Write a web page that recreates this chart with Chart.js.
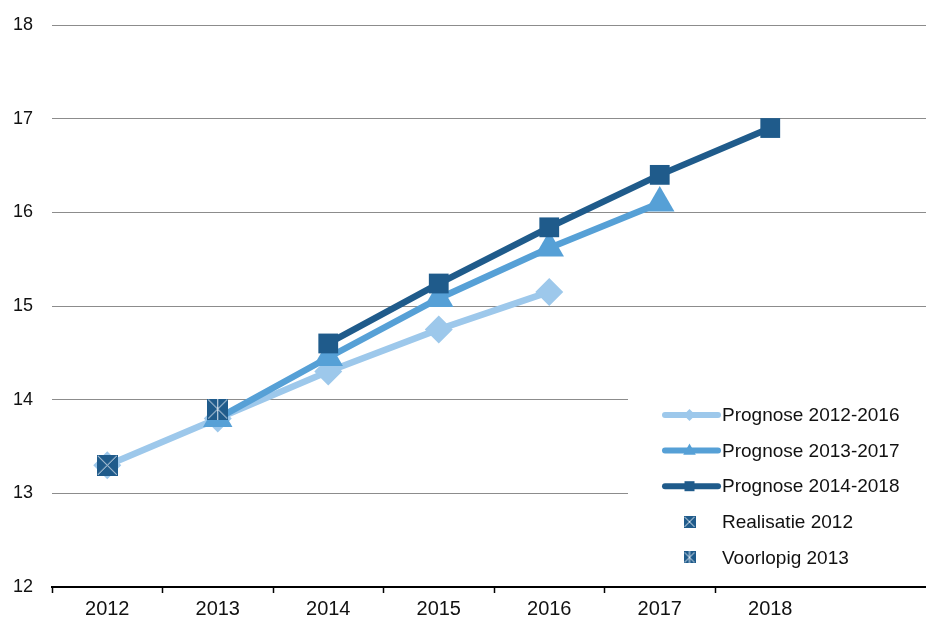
<!DOCTYPE html>
<html>
<head>
<meta charset="utf-8">
<script src="https://cdn.jsdelivr.net/npm/chart.js@4/dist/chart.umd.min.js"></script>
<style>
  html, body { margin: 0; padding: 0; background: #fff; overflow: hidden; }
  #wrap { width: 926px; height: 621px; }
</style>
</head>
<body>
<div id="wrap"><canvas id="chart"></canvas></div>
<script>
// data
const years = ['2012', '2013', '2014', '2015', '2016', '2017', '2018', ''];
const prognose2012 = [13.3, 13.8, 14.3, 14.75, 15.15, null, null, null];
const prognose2013 = [null, 13.8, 14.45, 15.08, 15.62, 16.1, null, null];
const prognose2014 = [null, null, 14.6, 15.24, 15.84, 16.4, 16.9, null];
const realisatie = [13.3, null, null, null, null, null, null, null];
const voorlopig = [null, 13.9, null, null, null, null, null, null];
const yTicks = [12, 13, 14, 15, 16, 17, 18];

const LIGHT = '#9DC8EB';
const MID = '#56A0D6';
const DARK = '#1F5B8B';
const FONT = '"Liberation Sans", Arial, sans-serif';

// square marker with a white cross (and optional vertical bar)
function makeMarker(size, vertical) {
    const c = document.createElement('canvas');
    c.width = size; c.height = size;
    const g = c.getContext('2d');
    g.fillStyle = DARK;
    g.fillRect(0, 0, size, size);
    g.strokeStyle = '#dfe9f2';
    g.lineWidth = 1;
    g.beginPath();
    g.moveTo(1, 1); g.lineTo(size - 1, size - 1);
    g.moveTo(size - 1, 1); g.lineTo(1, size - 1);
    if (vertical) {
        g.moveTo(size / 2, 0); g.lineTo(size / 2, size);
    }
    g.stroke();
    return c;
}

const bigReal = makeMarker(21, false);
const bigVoor = makeMarker(21, true);
const smallReal = makeMarker(12, false);
const smallVoor = makeMarker(12, true);

function drawShape(ctx, style, x, y, r) {
    ctx.beginPath();
    if (style === 'rectRot') {
        ctx.moveTo(x - r, y); ctx.lineTo(x, y - r); ctx.lineTo(x + r, y); ctx.lineTo(x, y + r);
    } else if (style === 'triangle') {
        ctx.moveTo(x, y - r); ctx.lineTo(x + r * 0.9, y + r * 0.6); ctx.lineTo(x - r * 0.9, y + r * 0.6);
    } else {
        ctx.rect(x - r, y - r, 2 * r, 2 * r);
    }
    ctx.closePath();
    ctx.fill();
}

const legendItems = [
    { label: 'Prognose 2012-2016', color: LIGHT, line: true, shape: 'rectRot', r: 6 },
    { label: 'Prognose 2013-2017', color: MID, line: true, shape: 'triangle', r: 7 },
    { label: 'Prognose 2014-2018', color: DARK, line: true, shape: 'rect', r: 5 },
    { label: 'Realisatie 2012', img: smallReal },
    { label: 'Voorlopig 2013', img: smallVoor }
];

const boxLegend = {
    id: 'boxLegend',
    afterDraw(chart) {
        const ctx = chart.ctx;
        const left = chart.width - 298;
        ctx.save();
        ctx.fillStyle = '#fff';
        ctx.fillRect(left, 392, 298, 186);
        ctx.font = '19px ' + FONT;
        ctx.textBaseline = 'middle';
        legendItems.forEach((it, i) => {
            const y = 415 + i * 35.6;
            const x0 = left + 37, x1 = left + 90, xm = (x0 + x1) / 2 - 2;
            if (it.line) {
                ctx.strokeStyle = it.color;
                ctx.lineWidth = 6;
                ctx.lineCap = 'round';
                ctx.beginPath();
                ctx.moveTo(x0, y); ctx.lineTo(x1, y);
                ctx.stroke();
                ctx.fillStyle = it.color;
                drawShape(ctx, it.shape, xm, y, it.r);
            } else {
                ctx.drawImage(it.img, xm - 6, y - 6);
            }
            ctx.fillStyle = '#111';
            ctx.fillText(it.label, left + 94, y + 1);
        });
        ctx.restore();
    }
};

// the category axis runs a little past the right edge of the picture
const widenX = {
    id: 'widenX',
    afterLayout(chart) {
        const s = chart.scales.x;
        s.right = s.left + 884;
        s.width = 884;
        s.configure();
    }
};

new Chart(document.getElementById('chart'), {
    type: 'line',
    data: {
        labels: years,
        datasets: [{
            label: 'Prognose 2012-2016',
            data: prognose2012,
            borderColor: LIGHT,
            backgroundColor: LIGHT,
            borderWidth: 6.5,
            pointStyle: 'rectRot',
            pointRadius: 14,
            pointBorderWidth: 0,
            order: 5
        }, {
            label: 'Prognose 2013-2017',
            data: prognose2013,
            borderColor: MID,
            backgroundColor: MID,
            borderWidth: 6.5,
            pointStyle: 'triangle',
            pointRadius: 17,
            pointBorderWidth: 0,
            order: 4
        }, {
            label: 'Prognose 2014-2018',
            data: prognose2014,
            borderColor: DARK,
            backgroundColor: DARK,
            borderWidth: 6.5,
            pointStyle: 'rect',
            pointRadius: 14,
            pointBorderWidth: 0,
            order: 3
        }, {
            label: 'Realisatie 2012',
            data: realisatie,
            showLine: false,
            pointStyle: bigReal,
            order: 2
        }, {
            label: 'Voorlopig 2013',
            data: voorlopig,
            showLine: false,
            pointStyle: bigVoor,
            order: 1
        }]
    },
    options: {
        responsive: true,
        maintainAspectRatio: false,
        animation: false,
        events: [],
        layout: { autoPadding: false, padding: { top: 25, right: 0, bottom: 0, left: 13 } },
        scales: {
            x: {
                offset: true,
                grid: {
                    offset: true,
                    drawOnChartArea: false,
                    drawTicks: true,
                    tickLength: 6,
                    tickColor: (c) => c.index <= 6 ? '#000' : 'rgba(0,0,0,0)',
                    tickWidth: 1.5
                },
                border: { display: true, color: '#000', width: 2 },
                ticks: {
                    color: '#111',
                    font: { family: FONT, size: 20 },
                    padding: 4,
                    autoSkip: false,
                    maxRotation: 0
                },
                afterFit(scale) { scale.height = 34; }
            },
            y: {
                min: 12,
                max: 18,
                afterBuildTicks(scale) { scale.ticks = yTicks.map(v => ({ value: v })); },
                grid: { color: '#8c8c8c', lineWidth: 1, drawTicks: false },
                border: { display: false },
                ticks: {
                    color: '#111',
                    font: { family: FONT, size: 18 },
                    padding: 2,
                    crossAlign: 'far'
                },
                afterFit(scale) { scale.width = 39; }
            }
        },
        plugins: {
            legend: { display: false },
            tooltip: { enabled: false }
        }
    },
    plugins: [widenX, boxLegend]
});
</script>
</body>
</html>
